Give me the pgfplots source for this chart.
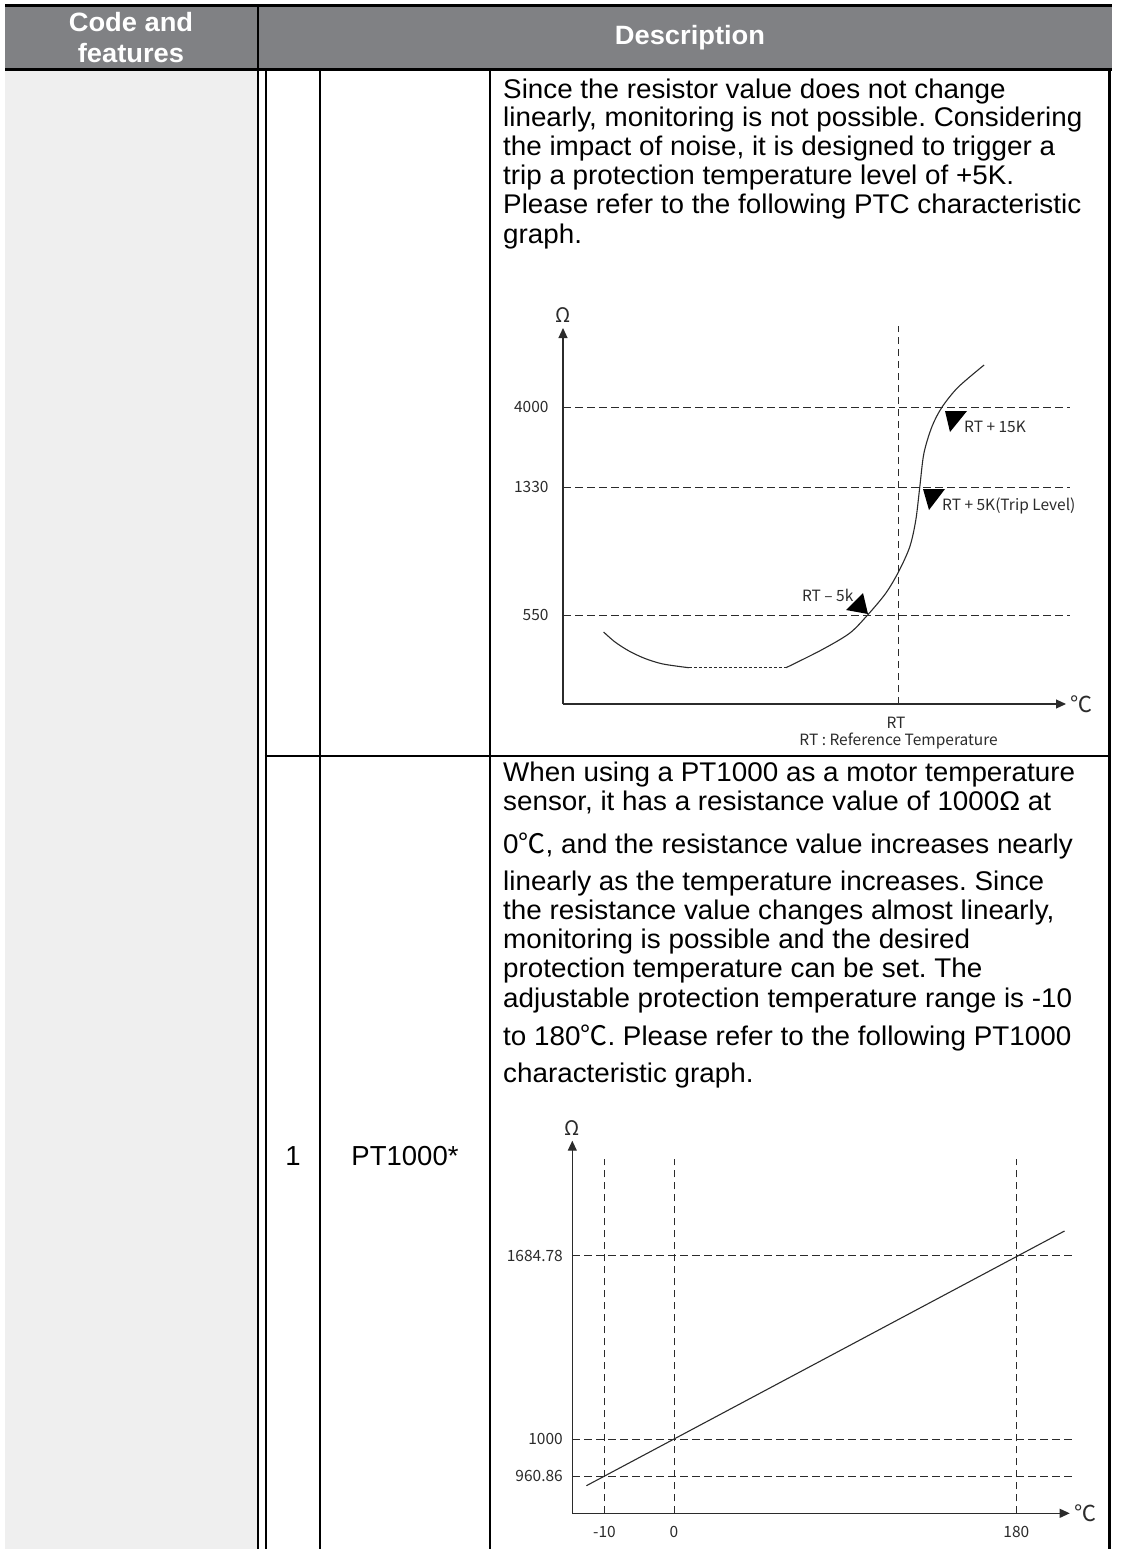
\documentclass[border=0pt]{standalone}
\usepackage{pgfplots}
\pgfplotsset{compat=1.18}
\usepackage{fontspec}
\usetikzlibrary{arrows.meta}
\setmainfont{Liberation Sans}[FakeStretch=1.03]
\newfontfamily\plainfont{Liberation Sans}
\newfontfamily\chartfont{Noto Sans CJK KR}
\definecolor{headgray}{HTML}{808184}
\definecolor{leftgray}{HTML}{EFEFEF}
\definecolor{ink}{HTML}{2B2B2B}
\frenchspacing

% one line of body text, baseline in pixels
\newcommand\bodyline[3]{\node[anchor=base west,inner sep=0pt,font=\fontsize{27}{29}\selectfont] at (#1,#2) {#3};}
\newcommand\degc{{\chartfont ℃}}

\pgfplotsset{
  schem/.style={
    scale only axis, axis lines=left, clip=false,
    axis line style={ink, line width=1.1pt, -{Triangle[length=10pt,width=9pt]}},
    major tick length=0pt,
    tick label style={font=\chartfont\fontsize{15.5}{15.5}\selectfont, text=ink},
    yticklabel style={xshift=-6pt},
    xticklabel style={yshift=-9pt},
  },
  dsh/.style={ink, line width=1pt, dash pattern=on 7.5pt off 4.5pt},
  curve/.style={ink, line width=1.1pt},
}

\begin{document}
\begin{tikzpicture}[x=1pt,y=-1pt]
\useasboundingbox (0,0) rectangle (1126,1549);

% table frame
\fill[headgray] (5,7) rectangle (1112,69);
\fill[leftgray] (5,71) rectangle (257,1549);
\draw[line width=3pt] (5,5.5) -- (1112,5.5);
\draw[line width=3pt] (5,69.5) -- (1112,69.5);
\draw[line width=2pt] (258,7) -- (258,68);
\foreach \xx in {258,265.5,320} \draw[line width=2pt] (\xx,71) -- (\xx,1549);
\draw[line width=2.5pt] (490,71) -- (490,1549);
\draw[line width=3pt] (1109.5,71) -- (1109.5,1549);
\draw[line width=2pt] (264.5,756) -- (1111,756);

% header
\begin{scope}[every node/.style={anchor=base,inner sep=0pt,text=white,font=\bfseries\fontsize{26.5}{28}\selectfont}]
\node at (131,32) {Code and};
\node at (131,63) {features};
\node at (690,45) {Description};
\end{scope}

% row 1 text
\bodyline{503}{98.3}{Since the resistor value does not change}
\bodyline{503}{127}{linearly, monitoring is not possible. Considering}
\bodyline{503}{156}{the impact of noise, it is designed to trigger a}
\bodyline{503}{185}{trip a protection temperature level of +5K.}
\bodyline{503}{214}{Please refer to the following PTC characteristic}
\bodyline{503}{243}{graph.}

% row 2 text
\node[anchor=base,inner sep=0pt,font=\plainfont\fontsize{27.5}{30}\selectfont] at (293,1165) {1};
\node[anchor=base,inner sep=0pt,font=\plainfont\fontsize{27.5}{30}\selectfont] at (405,1165) {PT1000*};
\bodyline{503}{781}{When using a PT1000 as a motor temperature}
\bodyline{503}{810}{sensor, it has a resistance value of 1000Ω at}
\bodyline{503}{853}{0\degc, and the resistance value increases nearly}
\bodyline{503}{890}{linearly as the temperature increases. Since}
\bodyline{503}{919}{the resistance value changes almost linearly,}
\bodyline{503}{948}{monitoring is possible and the desired}
\bodyline{503}{977}{protection temperature can be set. The}
\bodyline{503}{1007}{adjustable protection temperature range is -10}
\bodyline{503}{1045}{to 180\degc. Please refer to the following PT1000}
\bodyline{503}{1082}{characteristic graph.}

% PTC characteristic (schematic, pixel units)
\begin{axis}[schem, at={(563pt,-704pt)}, anchor=south west,
  width=503pt, height=376pt, xmin=0, xmax=503, ymin=0, ymax=376,
  yticklabel style={xshift=-5pt},
  xtick=\empty, ytick={89,217,297}, yticklabels={550,1330,4000}]
\addplot[dsh] coordinates {(0,297) (507,297)};
\addplot[dsh] coordinates {(0,217) (507,217)};
\addplot[dsh] coordinates {(0,89) (507,89)};
\addplot[dsh] coordinates {(335.6,0) (335.6,378)};
\addplot[curve, smooth] coordinates {(40.6,72) (52,62) (66,53) (82,45.5) (100,40) (125.8,36.3)};
\addplot[curve, dash pattern=on 3pt off 2pt] coordinates {(125.8,36.3) (223,36.3)};
\addplot[curve, smooth] coordinates {(223,36.3) (258.4,54) (286.5,70.7) (304.6,89) (322.7,110.7)
  (335.6,132.3) (346.8,157.3) (352.8,184) (356.8,217.3) (360.9,250.7) (368.9,277.3)
  (378.9,296.7) (395,316.7) (421.1,339)};
\addplot[fill=black, draw=none] coordinates {(382,293) (404,293) (387,272)};
\addplot[fill=black, draw=none] coordinates {(360,215) (382,215) (366,194)};
\addplot[fill=black, draw=none] coordinates {(283,94) (300,111) (305,90)};
\begin{scope}[every node/.style={inner sep=0pt, text=ink, font=\chartfont\fontsize{15.5}{15.5}\selectfont}]
\node[anchor=west] at (axis cs:401,277) {RT + 15K};
\node[anchor=west] at (axis cs:379,198) {RT + 5K(Trip Level)};
\node[anchor=east] at (axis cs:290.6,109) {RT – 5k};
\node[anchor=base] at (axis cs:333,-24) {RT};
\node[anchor=base] at (axis cs:335.6,-41) {RT : Reference Temperature};
\node[font=\chartfont\fontsize{20}{20}\selectfont] at (axis cs:0,389) {Ω};
\node[anchor=west, font=\chartfont\fontsize{22}{22}\selectfont] at (axis cs:507,0) {℃};
\end{scope}
\end{axis}

% PT1000 characteristic (schematic, pixel units)
\begin{axis}[schem, at={(572.3pt,-1513.3pt)}, anchor=south west,
  width=497.4pt, height=372.6pt, xmin=0, xmax=497.4, ymin=0, ymax=372.6,
  xtick={32.2,101.7,444}, xticklabels={-10,0,180},
  ytick={37.3,74.3,257.6}, yticklabels={960.86,1000,1684.78}]
\addplot[dsh] coordinates {(0,257.6) (500,257.6)};
\addplot[dsh] coordinates {(0,74.3) (500,74.3)};
\addplot[dsh] coordinates {(0,37.3) (500,37.3)};
\addplot[dsh] coordinates {(32.2,0) (32.2,354)};
\addplot[dsh] coordinates {(101.7,0) (101.7,354)};
\addplot[dsh] coordinates {(444,0) (444,354)};
\addplot[curve] coordinates {(14.1,27.6) (492.2,282.3)};
\begin{scope}[every node/.style={inner sep=0pt, text=ink}]
\node[font=\chartfont\fontsize{20}{20}\selectfont] at (axis cs:0,385.3) {Ω};
\node[anchor=west, font=\chartfont\fontsize{22}{22}\selectfont] at (axis cs:502,0) {℃};
\end{scope}
\end{axis}
\end{tikzpicture}
\end{document}
